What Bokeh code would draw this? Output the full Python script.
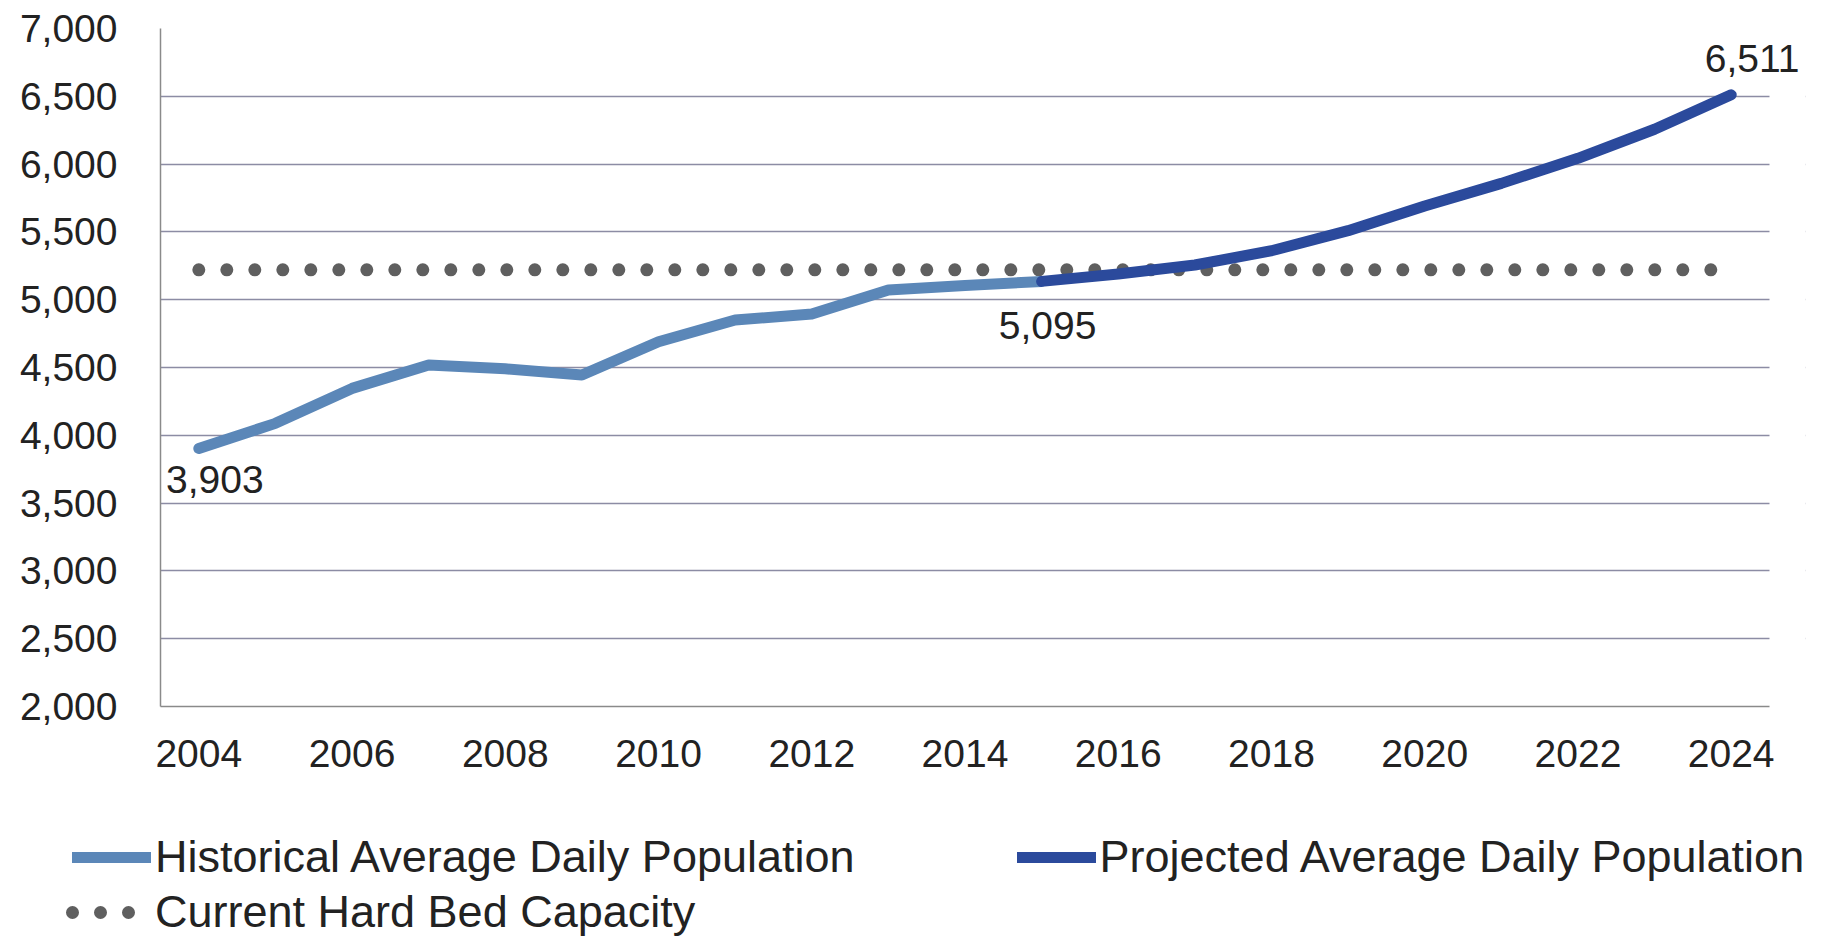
from bokeh.plotting import figure
from bokeh.models import (Range1d, FixedTicker, NumeralTickFormatter, Legend, LegendItem, Label,
                          BoxAnnotation)
from bokeh.embed import file_html
from bokeh.resources import INLINE

# ---- data ----
hist_years = [2004, 2005, 2006, 2007, 2008, 2009, 2010, 2011, 2012, 2013, 2014, 2015]
hist_values = [3903, 4088, 4346, 4518, 4490, 4445, 4690, 4850, 4895, 5072, 5105, 5135]
proj_years = [2015, 2016, 2017, 2018, 2019, 2020, 2021, 2022, 2023, 2024]
proj_values = [5135, 5189, 5256, 5361, 5509, 5691, 5858, 6043, 6257, 6511]
capacity_years = [2004, 2024]
capacity_values = [5220, 5220]
label_years = [2004, 2015, 2024]
label_values = [3903, 5095, 6511]
label_texts = ["3,903", "5,095", "6,511"]
x_ticks = [2004, 2006, 2008, 2010, 2012, 2014, 2016, 2018, 2020, 2022, 2024]
x_tick_labels = ["2004", "2006", "2008", "2010", "2012", "2014", "2016", "2018", "2020", "2022", "2024"]
y_ticks = [2000, 2500, 3000, 3500, 4000, 4500, 5000, 5500, 6000, 6500, 7000]
series_names = ["Historical Average Daily Population",
                "Projected Average Daily Population",
                "Current Hard Bed Capacity"]

FONT = "Liberation Sans"
TEXT = "#222222"
HIST_C = "#5B87B8"
PROJ_C = "#2B4A9C"
CAP_C = "#5f5f5f"
GRID_C = "#8c8ca4"
LW = 11

X_START, X_END = 2003.5, 2024.5

hist_style = dict(line_color=HIST_C, line_width=LW, line_cap="round", line_join="round")
proj_style = dict(line_color=PROJ_C, line_width=LW, line_cap="round", line_join="round")
cap_style = dict(line_color=CAP_C, line_width=13, line_dash="0 28", line_cap="round")

p = figure(width=1815, height=790, output_backend="svg", toolbar_location=None,
           x_range=Range1d(X_START, 2024.97), y_range=Range1d(2000, 7000),
           min_border_left=160, min_border_top=28, min_border_right=10, min_border_bottom=84)
p.outline_line_color = None
p.background_fill_color = "white"
p.border_fill_color = "white"

# axes
p.xaxis.ticker = FixedTicker(ticks=x_ticks)
p.xaxis.major_label_overrides = {t: l for t, l in zip(x_ticks, x_tick_labels)}
p.xaxis.bounds = (X_START, X_END)
p.yaxis.ticker = FixedTicker(ticks=y_ticks)
p.yaxis.formatter = NumeralTickFormatter(format="0,0")
for ax in (p.xaxis, p.yaxis):
    ax.major_tick_line_color = None
    ax.minor_tick_line_color = None
    ax.major_tick_out = 0
    ax.major_tick_in = 0
    ax.major_label_text_font = FONT
    ax.major_label_text_font_size = "39px"
    ax.major_label_text_color = TEXT
    ax.axis_line_color = "#8a8a8a"
    ax.axis_line_width = 1.5
p.yaxis.major_label_standoff = 43
p.xaxis.major_label_standoff = 33

p.xgrid.grid_line_color = None
p.ygrid.grid_line_color = GRID_C
p.ygrid.grid_line_width = 1.5
# blank the area right of the category span so the gridlines stop at the last category edge
p.add_layout(BoxAnnotation(left=X_END, fill_color="white", fill_alpha=1.0,
                           line_alpha=0, level="underlay"))

# lines
p.line(capacity_years, capacity_values, **cap_style)
p.line(hist_years, hist_values, **hist_style)
p.line(proj_years, proj_values, **proj_style)

# data labels
x_offs = [16, 6, 21]
y_offs = [-31, -39, 36]
for yr, v, t, xo, yo in zip(label_years, label_values, label_texts, x_offs, y_offs):
    p.add_layout(Label(x=yr, y=v, text=t, x_offset=xo, y_offset=yo,
                       text_align="center", text_baseline="alphabetic",
                       text_font=FONT, text_font_size="39px", text_color=TEXT))

# legend strip (separate figure so nothing is clipped)
q = figure(width=1815, height=148, output_backend="svg", toolbar_location=None,
           x_range=Range1d(0, 1815), y_range=Range1d(0, 148),
           x_axis_type=None, y_axis_type=None,
           min_border_left=0, min_border_right=0, min_border_top=0, min_border_bottom=0)
q.outline_line_color = None
q.xgrid.grid_line_color = None
q.ygrid.grid_line_color = None
q.background_fill_color = "white"
q.border_fill_color = "white"
# legend proxies: same series, far outside this strip's ranges
lh = q.line(hist_years, hist_values, **hist_style)
lp = q.line(proj_years, proj_values, **proj_style)
lc = q.line(capacity_years, capacity_values, line_dash_offset=18,
            **cap_style)

common = dict(border_line_alpha=0, background_fill_alpha=0, padding=0, margin=0,
              label_text_font=FONT, label_text_font_size="45px", label_text_color=TEXT,
              glyph_height=50, label_height=50)
leg1 = Legend(items=[LegendItem(label=series_names[0], renderers=[lh]),
                     LegendItem(label=series_names[1], renderers=[lp])],
              orientation="horizontal", location=(72, 55), glyph_width=79,
              label_standoff=4, spacing=162, **common)
leg2 = Legend(items=[LegendItem(label=series_names[2], renderers=[lc])],
              orientation="horizontal", location=(62, 0), glyph_width=78,
              label_standoff=15, **common)
q.add_layout(leg1, "center")
q.add_layout(leg2, "center")

open("out.html", "w").write(file_html((p, q), INLINE))
